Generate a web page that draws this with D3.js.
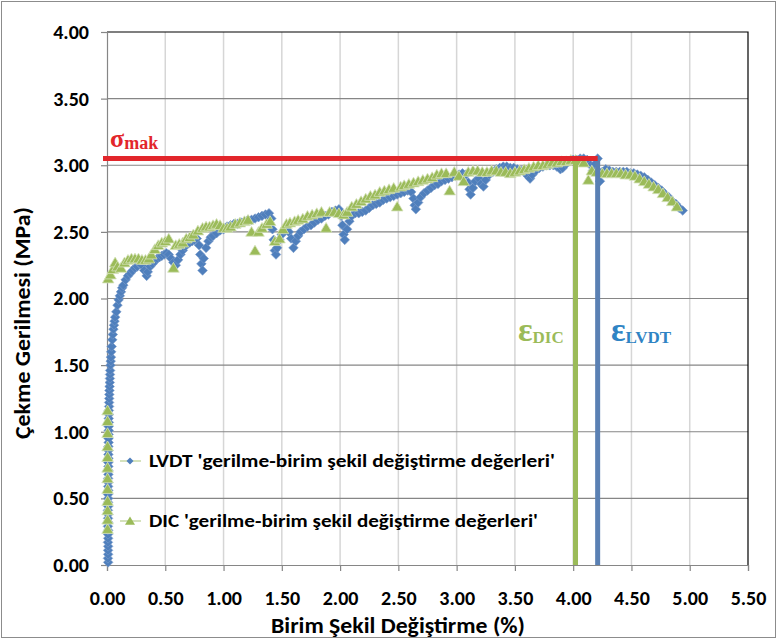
<!DOCTYPE html>
<html>
<head>
<meta charset="utf-8">
<script src="https://cdn.jsdelivr.net/npm/d3@7"></script>
<style>
  html, body { margin: 0; padding: 0; background: #fff; }
  svg { display: block; }
  .tick text { font-family: Carlito, Calibri, "Open Sans", sans-serif; font-weight: 700; font-size: 20px; fill: #000; }
</style>
</head>
<body>
<svg id="chart" width="777" height="639"></svg>
<script>
// Axis ticks
const xTicks = [0, 0.5, 1, 1.5, 2, 2.5, 3, 3.5, 4, 4.5, 5, 5.5];
const yTicks = [0, 0.5, 1, 1.5, 2, 2.5, 3, 3.5, 4];

// Peak stress and the strains at which it occurs
const sigmaMax = 3.05;
const epsDIC = 4.02;
const epsLVDT = 4.21;

// LVDT stress-strain readings [strain %, stress MPa]
const lvdtPoints = [
  [0.01,0.02],[0.008,0.05],[0.01,0.08],[0.009,0.11],[0.01,0.14],[0.008,0.17],[0.01,0.20],[0.009,0.23],
  [0.01,0.26],[0.008,0.29],[0.01,0.32],[0.009,0.35],[0.01,0.38],[0.008,0.41],[0.01,0.44],[0.009,0.47],
  [0.01,0.50],[0.009,0.53],[0.011,0.56],[0.01,0.59],[0.011,0.62],[0.01,0.65],[0.012,0.68],[0.011,0.71],
  [0.012,0.74],[0.011,0.77],[0.013,0.80],[0.012,0.83],[0.013,0.86],[0.012,0.89],[0.014,0.92],[0.013,0.95],
  [0.014,0.98],[0.015,1.01],[0.014,1.04],[0.016,1.07],[0.015,1.10],[0.017,1.13],[0.016,1.16],[0.018,1.19],
  [0.018,1.22],[0.019,1.25],[0.02,1.28],[0.021,1.31],[0.022,1.34],[0.024,1.37],[0.025,1.40],[0.026,1.43],
  [0.027,1.46],[0.03,1.50],[0.032,1.53],[0.034,1.56],[0.036,1.60],[0.04,1.64],[0.045,1.69],[0.05,1.73],
  [0.055,1.77],[0.06,1.80],[0.065,1.83],[0.07,1.86],[0.08,1.90],[0.09,1.95],[0.10,1.99],[0.11,2.02],
  [0.12,2.05],[0.13,2.08],[0.14,2.10],[0.16,2.14],[0.18,2.17],[0.20,2.19],[0.22,2.21],[0.24,2.23],
  [0.26,2.24],[0.28,2.26],[0.30,2.25],[0.32,2.21],[0.34,2.17],[0.35,2.20],[0.37,2.24],[0.39,2.26],
  [0.41,2.28],[0.43,2.30],[0.45,2.31],[0.47,2.32],[0.49,2.33],[0.51,2.34],[0.53,2.33],[0.55,2.30],
  [0.57,2.27],[0.59,2.25],[0.61,2.29],[0.63,2.33],[0.65,2.36],[0.67,2.39],[0.69,2.41],[0.71,2.42],
  [0.73,2.43],[0.75,2.44],[0.77,2.45],[0.79,2.40],[0.80,2.33],[0.81,2.26],[0.82,2.21],[0.83,2.30],
  [0.85,2.38],[0.87,2.43],[0.89,2.46],[0.91,2.47],[0.94,2.49],[0.97,2.51],[1.00,2.52],[1.03,2.54],
  [1.06,2.55],[1.09,2.56],[1.12,2.56],[1.15,2.57],[1.18,2.58],[1.21,2.59],[1.24,2.59],[1.27,2.60],
  [1.30,2.61],[1.33,2.62],[1.36,2.63],[1.39,2.64],[1.41,2.60],[1.42,2.52],[1.43,2.44],[1.44,2.36],
  [1.45,2.33],[1.46,2.38],[1.48,2.44],[1.50,2.48],[1.52,2.51],[1.54,2.52],[1.56,2.50],[1.58,2.45],
  [1.60,2.38],[1.62,2.43],[1.64,2.47],[1.66,2.50],[1.69,2.52],[1.72,2.54],[1.75,2.55],[1.78,2.57],
  [1.81,2.59],[1.84,2.60],[1.87,2.62],[1.90,2.63],[1.93,2.65],[1.96,2.66],[1.99,2.67],[2.01,2.62],
  [2.02,2.55],[2.03,2.48],[2.04,2.44],[2.06,2.52],[2.08,2.58],[2.10,2.62],[2.13,2.64],[2.16,2.64],
  [2.19,2.65],[2.22,2.66],[2.25,2.68],[2.28,2.70],[2.31,2.71],[2.34,2.72],[2.37,2.74],[2.40,2.75],
  [2.43,2.76],[2.46,2.77],[2.49,2.78],[2.52,2.79],[2.55,2.80],[2.58,2.81],[2.61,2.80],[2.63,2.75],
  [2.64,2.70],[2.65,2.67],[2.67,2.72],[2.69,2.76],[2.72,2.79],[2.75,2.81],[2.78,2.83],[2.81,2.85],
  [2.84,2.86],[2.87,2.88],[2.90,2.89],[2.93,2.90],[2.96,2.91],[2.99,2.92],[3.02,2.93],[3.05,2.94],
  [3.08,2.93],[3.10,2.87],[3.11,2.82],[3.12,2.78],[3.14,2.83],[3.16,2.88],[3.19,2.90],[3.21,2.86],
  [3.23,2.84],[3.25,2.89],[3.28,2.93],[3.31,2.95],[3.34,2.97],[3.37,2.98],[3.40,2.99],[3.43,2.99],
  [3.46,2.98],[3.49,2.98],[3.52,2.97],[3.55,2.96],[3.58,2.95],[3.61,2.92],[3.63,2.90],[3.65,2.93],
  [3.68,2.96],[3.71,2.98],[3.74,2.99],[3.77,3.00],[3.80,3.00],[3.83,3.00],[3.86,2.99],[3.89,2.97],
  [3.91,2.98],[3.94,3.01],[3.97,3.03],[4.00,3.04],[4.03,3.04],[4.06,3.05],[4.09,3.05],[4.12,3.04],
  [4.15,3.00],[4.17,2.96],[4.19,3.01],[4.21,3.05],[4.22,2.95],[4.23,2.88],[4.25,2.95],[4.28,2.97],
  [4.31,2.96],[4.34,2.95],[4.37,2.95],[4.40,2.95],[4.43,2.95],[4.46,2.95],[4.49,2.94],[4.52,2.94],
  [4.55,2.93],[4.58,2.92],[4.61,2.91],[4.64,2.89],[4.67,2.87],[4.70,2.85],[4.73,2.83],[4.76,2.81],
  [4.79,2.78],[4.82,2.76],[4.85,2.73],[4.88,2.71],[4.91,2.68],[4.94,2.66]
];

// DIC stress-strain readings [strain %, stress MPa]
const dicPoints = [
  [0.005,0.27],[0.005,0.34],[0.005,0.41],[0.005,0.48],[0.005,0.57],[0.005,0.65],[0.005,0.73],[0.005,0.81],
  [0.005,0.89],[0.005,0.99],[0.005,1.08],[0.005,1.16],
  [0.01,2.15],[0.03,2.18],[0.05,2.22],[0.07,2.27],[0.09,2.24],[0.12,2.23],[0.15,2.27],[0.18,2.29],
  [0.21,2.30],[0.24,2.30],[0.27,2.30],[0.30,2.29],[0.33,2.29],[0.36,2.30],[0.38,2.33],[0.41,2.37],
  [0.44,2.40],[0.47,2.42],[0.50,2.43],[0.53,2.45],[0.57,2.23],[0.59,2.40],[0.62,2.41],[0.65,2.42],
  [0.68,2.45],[0.71,2.46],[0.74,2.48],[0.78,2.51],[0.82,2.53],[0.85,2.54],[0.88,2.54],[0.91,2.55],
  [0.94,2.56],[0.97,2.55],[1.00,2.53],[1.03,2.53],[1.06,2.54],[1.10,2.56],[1.14,2.57],[1.18,2.58],
  [1.21,2.59],[1.24,2.50],[1.27,2.36],[1.30,2.50],[1.33,2.53],[1.37,2.56],[1.40,2.58],[1.44,2.43],
  [1.48,2.45],[1.51,2.52],[1.54,2.56],[1.57,2.57],[1.61,2.58],[1.64,2.59],[1.68,2.60],[1.72,2.62],
  [1.76,2.63],[1.80,2.64],[1.84,2.65],[1.88,2.53],[1.91,2.65],[1.95,2.65],[1.99,2.64],[2.03,2.63],
  [2.06,2.65],[2.10,2.69],[2.14,2.71],[2.18,2.73],[2.22,2.75],[2.26,2.77],[2.30,2.78],[2.34,2.80],
  [2.38,2.81],[2.42,2.82],[2.46,2.83],[2.49,2.69],[2.52,2.84],[2.55,2.85],[2.59,2.86],[2.63,2.87],
  [2.67,2.88],[2.71,2.89],[2.75,2.90],[2.79,2.91],[2.83,2.93],[2.87,2.94],[2.91,2.94],[2.94,2.81],
  [2.98,2.95],[3.02,2.92],[3.06,2.88],[3.10,2.95],[3.14,2.96],[3.18,2.96],[3.22,2.95],[3.26,2.95],
  [3.30,2.96],[3.34,2.96],[3.38,2.95],[3.42,2.95],[3.46,2.94],[3.50,2.95],[3.54,2.96],[3.58,2.97],
  [3.62,2.98],[3.66,2.99],[3.70,3.00],[3.74,3.00],[3.78,3.01],[3.82,3.02],[3.86,3.02],[3.90,3.03],
  [3.94,3.03],[3.98,3.04],[4.02,3.04],[4.06,3.03],[4.09,3.02],[4.13,2.89],[4.16,2.96],[4.20,2.95],
  [4.25,2.94],[4.29,2.94],[4.33,2.94],[4.37,2.94],[4.41,2.94],[4.45,2.93],[4.49,2.93],[4.53,2.92],
  [4.57,2.90],[4.61,2.88],[4.65,2.86],[4.69,2.84],[4.73,2.82],[4.77,2.79],[4.81,2.76],[4.85,2.73],
  [4.89,2.69]
];

const legendLabels = [
  "LVDT 'gerilme-birim şekil değiştirme değerleri'",
  "DIC 'gerilme-birim şekil değiştirme değerleri'"
];

const blue = "#4f7fbc", green = "#9bbb59", red = "#e2262b";
const fontSans = "Carlito, Calibri, 'Open Sans', sans-serif";

const svg = d3.select("#chart");

// outer frame
svg.append("rect").attr("x", 1.5).attr("y", 1.5).attr("width", 774).attr("height", 636)
  .attr("fill", "#fff").attr("stroke", "#8c8c8c").attr("stroke-width", 1);

const x = d3.scaleLinear().domain([0, 5.5]).range([107, 748]);
const y = d3.scaleLinear().domain([0, 4]).range([565, 32]);

// gridlines
svg.append("g").selectAll("line").data(xTicks.slice(1, -1)).join("line")
  .attr("x1", d => x(d)).attr("x2", d => x(d)).attr("y1", y(4)).attr("y2", y(0))
  .attr("stroke", "#d6d6d6").attr("stroke-width", 1.5);
svg.append("g").selectAll("line").data(yTicks.slice(1, -1)).join("line")
  .attr("x1", x(0)).attr("x2", x(5.5)).attr("y1", d => y(d)).attr("y2", d => y(d))
  .attr("stroke", "#868686").attr("stroke-width", 1.2);

// plot border top/right
svg.append("path")
  .attr("d", `M${x(0)},${y(4)}H${x(5.5)}V${y(0)}`)
  .attr("fill", "none").attr("stroke", "#000").attr("stroke-width", 1.2);

// axes
const yAxis = svg.append("g").attr("transform", `translate(${x(0)},0)`)
  .call(d3.axisLeft(y).tickValues(yTicks).tickFormat(d3.format(".2f")).tickSize(6).tickPadding(12));
const xAxis = svg.append("g").attr("transform", `translate(0,${y(0)})`)
  .call(d3.axisBottom(x).tickValues(xTicks).tickFormat(d3.format(".2f")).tickSize(6).tickPadding(20));
[yAxis, xAxis].forEach(a => {
  a.select(".domain").attr("stroke", "#868686").attr("stroke-width", 1.2);
  a.selectAll(".tick line").attr("stroke", "#868686").attr("stroke-width", 1.2);
});

// axis titles
svg.append("text").attr("x", 398).attr("y", 633).attr("text-anchor", "middle")
  .attr("font-family", fontSans).attr("font-weight", 700).attr("font-size", 22)
  .attr("textLength", 254).attr("lengthAdjust", "spacingAndGlyphs")
  .text("Birim Şekil Değiştirme (%)");
svg.append("text").attr("transform", "translate(30,323) rotate(-90)").attr("text-anchor", "middle")
  .attr("font-family", fontSans).attr("font-weight", 700).attr("font-size", 22)
  .attr("textLength", 232).attr("lengthAdjust", "spacingAndGlyphs")
  .text("Çekme Gerilmesi (MPa)");

// markers
const diamond = "M0,-4.8L4.8,0L0,4.8L-4.8,0Z";
const triangle = "M0,-5.4L5.8,4.4L-5.8,4.4Z";

svg.append("g").selectAll("path").data(lvdtPoints).join("path")
  .attr("d", diamond)
  .attr("transform", d => `translate(${x(d[0])},${y(d[1])})`)
  .attr("fill", blue).attr("stroke", "#7b9ccb").attr("stroke-width", 0.6);

svg.append("g").selectAll("path").data(dicPoints).join("path")
  .attr("d", triangle)
  .attr("transform", d => `translate(${x(d[0])},${y(d[1])})`)
  .attr("fill", green).attr("stroke", "#d5e2bb").attr("stroke-width", 0.8);

// peak stress and corresponding strain lines
svg.append("line").attr("x1", x(epsDIC)).attr("x2", x(epsDIC)).attr("y1", y(0)).attr("y2", y(sigmaMax))
  .attr("stroke", green).attr("stroke-width", 5);
svg.append("line").attr("x1", x(epsLVDT)).attr("x2", x(epsLVDT)).attr("y1", y(0)).attr("y2", y(sigmaMax))
  .attr("stroke", "#5a80b3").attr("stroke-width", 5);
svg.append("line").attr("x1", x(0) - 4).attr("x2", x(epsLVDT)).attr("y1", y(sigmaMax)).attr("y2", y(sigmaMax))
  .attr("stroke", red).attr("stroke-width", 5);

// annotations
const serif = "'Liberation Serif', 'Times New Roman', serif";
function symLabel(px, py, big, sub, color, bigSize, subSize) {
  const t = svg.append("text").attr("x", px).attr("y", py)
    .attr("font-family", serif).attr("font-weight", 700).attr("fill", color);
  t.append("tspan").attr("font-size", bigSize).text(big);
  t.append("tspan").attr("font-size", subSize).attr("dy", 2).text(sub);
}
symLabel(110, 147, "σ", "mak", red, 26, 18);
symLabel(518, 341, "ε", "DIC", green, 34, 17);
symLabel(611, 341, "ε", "LVDT", "#2f84c4", 34, 17);

// legend
const legendY = [461, 521];
const leg = svg.append("g");
legendY.forEach((ly, i) => {
  leg.append("line").attr("x1", 120).attr("x2", 141).attr("y1", ly).attr("y2", ly)
    .attr("stroke", "#b9cf8f").attr("stroke-width", 1.2);
  leg.append("path").attr("d", i === 0 ? "M0,-3.5L3.5,0L0,3.5L-3.5,0Z" : "M0,-4.5L5,3.8L-5,3.8Z")
    .attr("transform", `translate(130,${ly})`)
    .attr("fill", i === 0 ? blue : green);
  leg.append("text").attr("x", 149).attr("y", ly + 6)
    .attr("font-family", fontSans).attr("font-weight", 700).attr("font-size", 18)
    .attr("textLength", i === 0 ? 406 : 389).attr("lengthAdjust", "spacingAndGlyphs")
    .text(legendLabels[i]);
});
</script>
</body>
</html>
